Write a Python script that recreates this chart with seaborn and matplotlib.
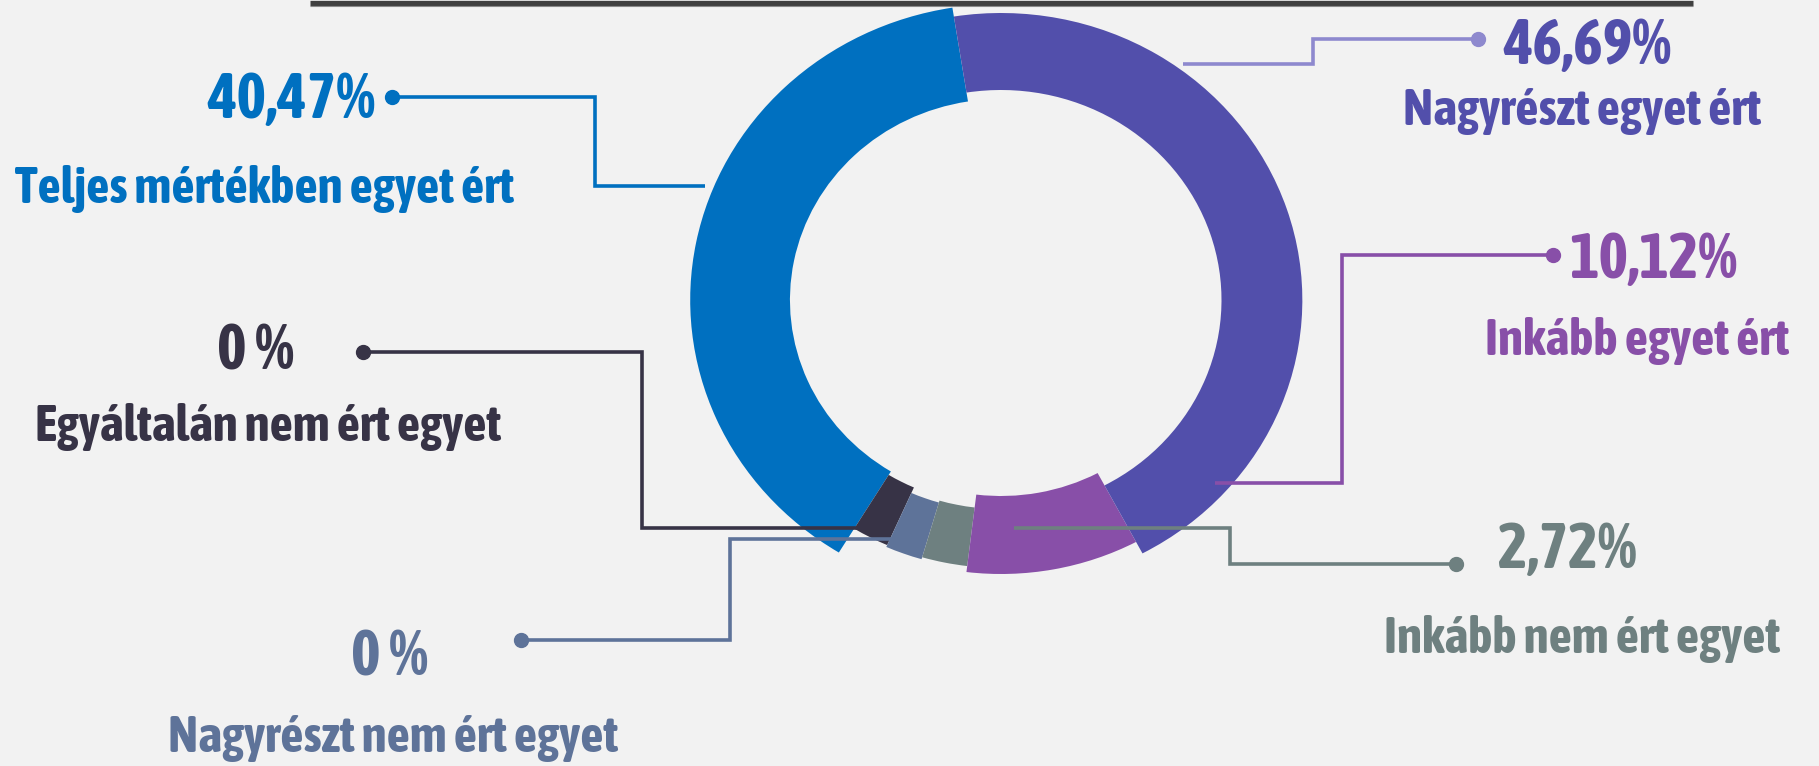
import numpy as np
import pandas as pd
import matplotlib
matplotlib.use("Agg")
import matplotlib.pyplot as plt
import seaborn as sns
from matplotlib import font_manager as fm

# ---------------- data ----------------
categories = ["Teljes mértékben egyet ért", "Egyáltalán nem ért egyet",
              "Nagyrészt nem ért egyet", "Inkább nem ért egyet",
              "Inkább egyet ért", "Nagyrészt egyet ért"]
values = [40.47, 0.0, 0.0, 2.72, 10.12, 46.69]
value_labels = ["40,47%", "0 %", "0 %", "2,72%", "10,12%", "46,69%"]

# ---------------- style ----------------
colors = ["#0070C0", "#373346", "#5E7399", "#6E8080", "#884FA8", "#524FAB"]
line_colors = ["#0070C0", "#373346", "#5E7399", "#6E8080", "#884FA8", "#8E89CE"]
BG = "#F2F2F2"
MIN_SHARE = 2.2          # zero categories still shown as a thin sliver
START_ANGLE = 99
r_outer = [296, 268, 270, 268, 274, 287]
r_inner = [201, 205, 211, 209, 196, 210]

# label layout (pixel positions in a 1819x766 canvas, y from top)
pct_pos = [(291, 118), (256, 369), (390, 676), (1567, 568), (1653, 278), (1587, 64)]
cat_pos = [(265, 203), (268, 441), (393, 752), (1582, 653), (1637, 355), (1582, 125)]
leaders = [
    [(392, 97), (595, 97), (595, 186), (705, 186)],
    [(363, 352), (642, 352), (642, 528), (890, 528)],
    [(521, 640), (730, 640), (730, 539), (922, 539)],
    [(1456, 564), (1230, 564), (1230, 528), (1014, 528)],
    [(1553, 255), (1342, 255), (1342, 483), (1215, 483)],
    [(1478, 39), (1313, 39), (1313, 64), (1183, 64)],
]

sns.set_theme(style="white", rc={"figure.facecolor": BG, "axes.facecolor": BG,
                                 "savefig.facecolor": BG})


def pick_font():
    def wnum(w):
        if isinstance(w, str):
            return fm.weight_dict.get(w, 400)
        return w
    cond = []
    for f in fm.fontManager.ttflist:
        narrow = ("Narrow" in f.name or "Condensed" in f.name or
                  f.stretch in ("condensed", "semi-condensed", "extra-condensed"))
        if narrow and 600 <= wnum(f.weight) <= 800 and f.style == "normal":
            cond.append(f)
    if cond:
        cond.sort(key=lambda f: (0 if "Liberation" in f.name else 1, f.name))
        return fm.FontProperties(fname=cond[0].fname)
    names = {f.name for f in fm.fontManager.ttflist}
    fam = "Roboto" if "Roboto" in names else "DejaVu Sans"
    return fm.FontProperties(family=[fam, "DejaVu Sans"], weight="bold")


FP = pick_font()
plt.rcParams["font.family"] = ["Roboto", "DejaVu Sans"]

W, H = 1819, 766
fig = plt.figure(figsize=(W / 100, H / 100), dpi=100)

# donut axes (slightly wider than tall)
CX, CY, S, R = 1001, 300, 1.05, 330
ax2 = fig.add_axes([(CX - R * S) / W, (H - CY - R) / H, 2 * R * S / W, 2 * R / H])
shares = np.maximum(np.array(values), MIN_SHARE)
fr = shares / shares.sum()
start = START_ANGLE
for i in range(len(values)):
    ax2.pie([fr[i]], normalize=False, startangle=start, colors=[colors[i]],
            radius=r_outer[i], counterclock=True,
            wedgeprops=dict(width=r_outer[i] - r_inner[i], linewidth=0))
    start += fr[i] * 360
ax2.set_aspect("auto")
ax2.set_xlim(-R, R)
ax2.set_ylim(-R, R)
ax2.axis("off")

# overlay axes in pixel coordinates
ax = fig.add_axes([0, 0, 1, 1])
ax.set_xlim(0, W)
ax.set_ylim(H, 0)
ax.axis("off")
ax.patch.set_alpha(0)

# top rule
ax.hlines(2.5, 310, 1693, color="#404040", lw=3.8)
ax.hlines(5.6, 310, 1693, color="#8A8A8A", lw=0.8)

renderer = fig.canvas.get_renderer()


def fit_size(sample, target_px, base=40.0):
    fp = FP.copy()
    fp.set_size(base)
    t = ax.text(0, 0, sample, fontproperties=fp)
    w = t.get_window_extent(renderer).width
    t.remove()
    return base * target_px / w


pct_size = fit_size("40,47%", 168)
cat_size = fit_size("Teljes mértékben egyet ért", 500)

for i in range(len(values)):
    pts = np.array(leaders[i])
    ax.plot(pts[:, 0], pts[:, 1], color=line_colors[i], lw=2.6,
            solid_joinstyle="miter", solid_capstyle="butt", zorder=3)
    ax.plot(pts[0, 0], pts[0, 1], "o", color=line_colors[i], ms=10, zorder=4)
    tc = colors[i]
    fp1 = FP.copy(); fp1.set_size(pct_size)
    fp2 = FP.copy(); fp2.set_size(cat_size)
    ax.text(pct_pos[i][0], pct_pos[i][1], value_labels[i], ha="center",
            va="baseline", fontproperties=fp1, color=tc)
    ax.text(cat_pos[i][0], cat_pos[i][1], categories[i], ha="center",
            va="baseline", fontproperties=fp2, color=tc)

fig.savefig("out.png", dpi=100, facecolor=BG)
